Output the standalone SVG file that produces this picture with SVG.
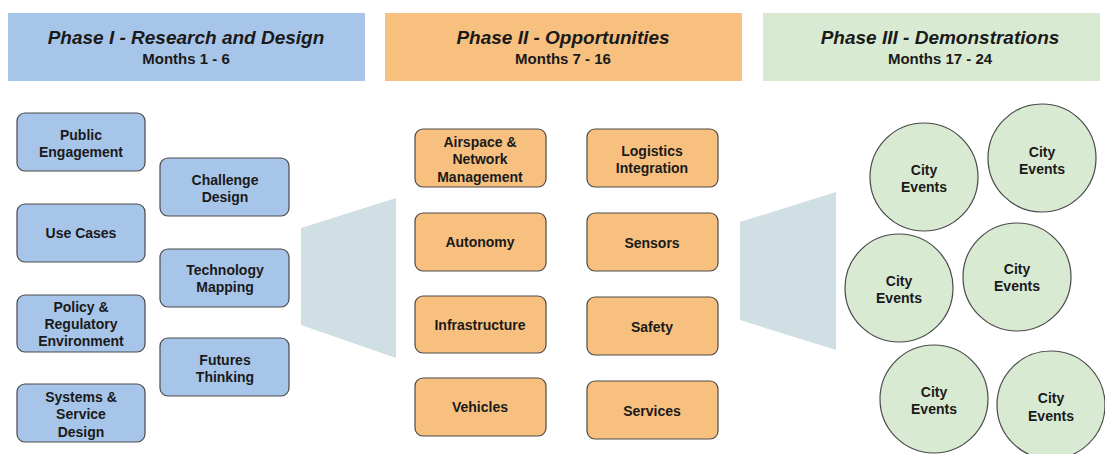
<svg xmlns="http://www.w3.org/2000/svg" width="1105" height="454" viewBox="0 0 1105 454">
<style>
.t{font-family:"Liberation Sans",Arial,sans-serif;font-weight:bold;fill:#1a1a1a;text-anchor:middle}
.h{font-size:19px;font-style:italic}
.m{font-size:15px}
.n{font-size:14px}
.b{fill:#a7c5e8;stroke:#4a4a4a;stroke-width:1.2}
.o{fill:#f8c07f;stroke:#4a4a4a;stroke-width:1.2}
.g{fill:#d9ead3;stroke:#4a4a4a;stroke-width:1.2}
.f{fill:#d0dfe3}
</style>
<rect width="1105" height="454" fill="#ffffff"/>
<g id="header1"><rect x="8" y="13" width="357" height="68" fill="#a7c5e8"/><text class="t h" x="186" y="44">Phase I - Research and Design</text><text class="t m" x="186" y="64">Months 1 - 6</text></g>
<g id="header2"><rect x="385" y="13" width="357" height="68" fill="#f8c07f"/><text class="t h" x="563" y="44">Phase II - Opportunities</text><text class="t m" x="563" y="64">Months 7 - 16</text></g>
<g id="header3"><rect x="763" y="13" width="337" height="68" fill="#d9ead3"/><text class="t h" x="940" y="44">Phase III - Demonstrations</text><text class="t m" x="940" y="64">Months 17 - 24</text></g>
<g id="connectors">
<polygon class="f" points="301,228 396,198 396,358 301,325"/>
<polygon class="f" points="740,222 836,192 836,350 740,320"/>
</g>
<g id="public"><rect class="b" x="17" y="113" width="128" height="58" rx="8"/><text class="t n" x="81" y="140">Public</text><text class="t n" x="81" y="157">Engagement</text></g>
<g id="usecases"><rect class="b" x="17" y="204" width="128" height="58" rx="8"/><text class="t n" x="81" y="238">Use Cases</text></g>
<g id="policy"><rect class="b" x="17" y="295" width="128" height="57" rx="8"/><text class="t n" x="81" y="312">Policy &amp;</text><text class="t n" x="81" y="329">Regulatory</text><text class="t n" x="81" y="346">Environment</text></g>
<g id="systems"><rect class="b" x="17" y="384" width="128" height="58" rx="8"/><text class="t n" x="81" y="402">Systems &amp;</text><text class="t n" x="81" y="419">Service</text><text class="t n" x="81" y="437">Design</text></g>
<g id="challenge"><rect class="b" x="160" y="158" width="129" height="58" rx="8"/><text class="t n" x="225" y="185">Challenge</text><text class="t n" x="225" y="202">Design</text></g>
<g id="technology"><rect class="b" x="160" y="249" width="129" height="58" rx="8"/><text class="t n" x="225" y="275">Technology</text><text class="t n" x="225" y="292">Mapping</text></g>
<g id="futures"><rect class="b" x="160" y="338" width="129" height="58" rx="8"/><text class="t n" x="225" y="365">Futures</text><text class="t n" x="225" y="382">Thinking</text></g>
<g id="airspace"><rect class="o" x="415" y="129" width="131" height="58" rx="8"/><text class="t n" x="480" y="147">Airspace &amp;</text><text class="t n" x="480" y="164">Network</text><text class="t n" x="480" y="182">Management</text></g>
<g id="autonomy"><rect class="o" x="415" y="213" width="131" height="58" rx="8"/><text class="t n" x="480" y="247">Autonomy</text></g>
<g id="infrastructure"><rect class="o" x="415" y="296" width="131" height="57" rx="8"/><text class="t n" x="480" y="330">Infrastructure</text></g>
<g id="vehicles"><rect class="o" x="415" y="378" width="131" height="58" rx="8"/><text class="t n" x="480" y="412">Vehicles</text></g>
<g id="logistics"><rect class="o" x="587" y="129" width="131" height="58" rx="8"/><text class="t n" x="652" y="156">Logistics</text><text class="t n" x="652" y="173">Integration</text></g>
<g id="sensors"><rect class="o" x="587" y="213" width="131" height="58" rx="8"/><text class="t n" x="652" y="248">Sensors</text></g>
<g id="safety"><rect class="o" x="587" y="297" width="131" height="58" rx="8"/><text class="t n" x="652" y="332">Safety</text></g>
<g id="services"><rect class="o" x="587" y="381" width="131" height="58" rx="8"/><text class="t n" x="652" y="416">Services</text></g>
<g id="city1"><circle class="g" cx="924" cy="177" r="54"/><text class="t n" x="924" y="175">City</text><text class="t n" x="924" y="192">Events</text></g>
<g id="city2"><circle class="g" cx="1042" cy="158" r="54"/><text class="t n" x="1042" y="157">City</text><text class="t n" x="1042" y="174">Events</text></g>
<g id="city3"><circle class="g" cx="899" cy="288" r="54"/><text class="t n" x="899" y="286">City</text><text class="t n" x="899" y="303">Events</text></g>
<g id="city4"><circle class="g" cx="1017" cy="277" r="54"/><text class="t n" x="1017" y="274">City</text><text class="t n" x="1017" y="291">Events</text></g>
<g id="city5"><circle class="g" cx="934" cy="399" r="54"/><text class="t n" x="934" y="397">City</text><text class="t n" x="934" y="414">Events</text></g>
<g id="city6"><circle class="g" cx="1051" cy="405" r="54"/><text class="t n" x="1051" y="403">City</text><text class="t n" x="1051" y="421">Events</text></g>
</svg>
